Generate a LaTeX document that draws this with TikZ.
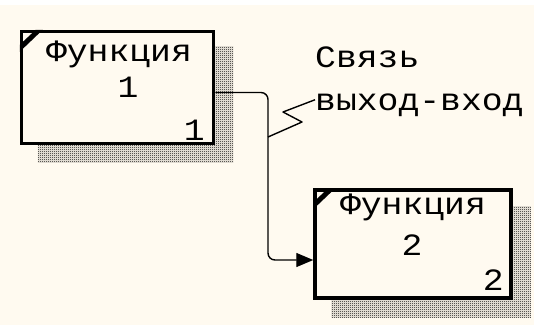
\documentclass[tikz,border=0pt]{standalone}
\usepackage{fontspec}
\usetikzlibrary{arrows.meta,patterns}
\newfontfamily\idefont[FakeStretch=1.12]{Liberation Mono}
\definecolor{paper}{RGB}{255,250,240}

\pgfdeclarepatternformonly{checker}{\pgfpointorigin}{\pgfpoint{2pt}{2pt}}{\pgfpoint{2pt}{2pt}}{
  \pgfpathrectangle{\pgfpointorigin}{\pgfpoint{1pt}{1pt}}
  \pgfpathrectangle{\pgfpoint{1pt}{1pt}}{\pgfpoint{1pt}{1pt}}
  \pgfusepath{fill}
}

\tikzset{
  funcbox/.style={draw=black, line width=3.5pt, fill=paper, inner sep=0pt},
  boxshadow/.style={pattern=checker, pattern color=black},
  boxtext/.style={font=\idefont\fontsize{31}{36}\selectfont, inner sep=0pt},
  conn/.style={line width=1.4pt, line join=round}
}

\begin{document}
\begin{tikzpicture}[x=1pt,y=-1pt]
    % fondo
    \fill[white] (0,0) rectangle (534,325);
    \fill[paper] (0,5) rectangle (534,325);
    \useasboundingbox (0,0) rectangle (534,325);

    %Funcion 1
    \node[funcbox, minimum width=192pt, minimum height=112pt] (f1) at (117.5,87.5) {};
    \fill[boxshadow] ([shift={(18,17)}]f1.north west) rectangle ([shift={(18,17)}]f1.south east);
    \node[funcbox, minimum width=192pt, minimum height=112pt] (f1) at (117.5,87.5) {};
    \fill ([shift={(0,15)}]f1.north west) -- ([shift={(0,22)}]f1.north west)
        -- ([shift={(23,0)}]f1.north west) -- ([shift={(16,0)}]f1.north west) -- cycle;
    \node[boxtext, anchor=base] (f1name) at (119,61) {Функция};
    \node[boxtext, anchor=base] (f1num) at (128,97) {1};
    \node[boxtext, anchor=base east] (f1ref) at (205,140) {1};

    %Funcion 2
    \node[funcbox, minimum width=196pt, minimum height=108pt] (f2) at (413,244) {};
    \fill[boxshadow] ([shift={(18,18)}]f2.north west) rectangle ([shift={(18,18)}]f2.south east);
    \node[funcbox, minimum width=196pt, minimum height=108pt] (f2) at (413,244) {};
    \fill ([shift={(0,14)}]f2.north west) -- ([shift={(0,21)}]f2.north west)
        -- ([shift={(22,0)}]f2.north west) -- ([shift={(15,0)}]f2.north west) -- cycle;
    \node[boxtext, anchor=base] (f2name) at (413,214) {Функция};
    \node[boxtext, anchor=base] (f2num) at (412,255) {2};
    \node[boxtext, anchor=base east] (f2ref) at (504,290) {2};

    %Flecha salida-entrada
    \coordinate (turn) at (268,180);
    \draw[conn, rounded corners=7pt, -{Triangle[length=17pt,width=14pt]}]
        ([yshift=-5pt]f1.east) -| (turn) |- ([yshift=-16pt]f2.west);

    %Etiqueta
    \node[boxtext, anchor=base west] (lbl1) at (315,67) {Связь};
    \node[boxtext, anchor=base west] (lbl2) at (315,110) {выход-вход};
    \coordinate (sq) at (268,137);
    \draw[conn] (sq) -- (302,122) -- (283,112) -- ([yshift=5pt]lbl2.west);
\end{tikzpicture}
\end{document}
